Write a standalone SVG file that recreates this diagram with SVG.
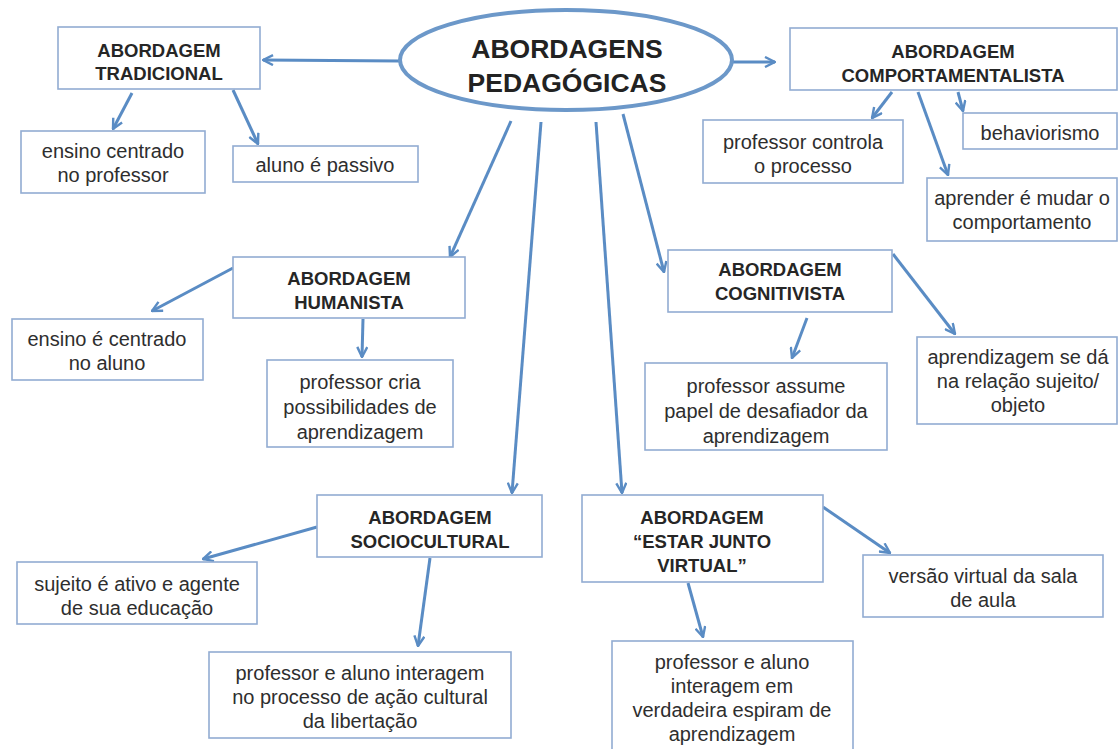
<svg xmlns="http://www.w3.org/2000/svg" width="1120" height="749" viewBox="0 0 1120 749">
<defs>
<marker id="ah" viewBox="0 0 12 12" refX="11" refY="6" markerWidth="12" markerHeight="12" markerUnits="userSpaceOnUse" orient="auto">
<path d="M1,1 L11,6 L1,11" fill="none" stroke="#5a8cc4" stroke-width="2.4" stroke-linejoin="miter"/>
</marker>
<style>
.box{fill:#fff;stroke:#92acd2;stroke-width:1.6}
.t{font-family:"Liberation Sans",Arial,sans-serif;font-size:20px;fill:#2e2e2e;text-anchor:middle;dominant-baseline:central}
.h{font-family:"Liberation Sans",Arial,sans-serif;font-size:18.5px;font-weight:bold;fill:#262626;text-anchor:middle;dominant-baseline:central}
.title{font-family:"Liberation Sans",Arial,sans-serif;font-size:26.5px;font-weight:bold;fill:#222;text-anchor:middle;dominant-baseline:central}
.c line{stroke:#5a8cc4;stroke-width:3;marker-end:url(#ah)}
</style>
</defs>
<rect width="1120" height="749" fill="#fff"/>

<g class="c" id="connectors">
<line x1="400" y1="61" x2="263" y2="60"/>
<line x1="733" y1="62" x2="775" y2="62"/>
<line x1="132" y1="93" x2="113" y2="129"/>
<line x1="233" y1="90" x2="258" y2="144"/>
<line x1="892" y1="92" x2="872" y2="118"/>
<line x1="918" y1="92" x2="948" y2="175"/>
<line x1="958" y1="92" x2="963" y2="111"/>
<line x1="511" y1="121" x2="450" y2="257"/>
<line x1="541" y1="122" x2="512" y2="493"/>
<line x1="596" y1="122" x2="622" y2="493"/>
<line x1="623" y1="114" x2="664" y2="272"/>
<line x1="233" y1="268" x2="152" y2="311"/>
<line x1="363" y1="319" x2="362" y2="357"/>
<line x1="807" y1="318" x2="792" y2="358"/>
<line x1="893" y1="254" x2="955" y2="334"/>
<line x1="317" y1="527" x2="203" y2="559"/>
<line x1="430" y1="558" x2="418" y2="646"/>
<line x1="688" y1="583" x2="703" y2="637"/>
<line x1="823" y1="507" x2="890" y2="553"/>
</g>

<g id="center">
<ellipse cx="566" cy="60" rx="166" ry="50" fill="#fff" stroke="#6c98c9" stroke-width="4"/>
<text class="title" x="567" y="49">ABORDAGENS</text>
<text class="title" x="567" y="83">PEDAGÓGICAS</text>
</g>

<g id="tradicional">
<rect class="box" x="58" y="27" width="202" height="62"/>
<text class="h" x="159" y="50">ABORDAGEM</text>
<text class="h" x="159" y="73">TRADICIONAL</text>
</g>
<g id="ensino-professor">
<rect class="box" x="21" y="131" width="184" height="62"/>
<text class="t" x="113" y="151">ensino centrado</text>
<text class="t" x="113" y="175">no professor</text>
</g>
<g id="aluno-passivo">
<rect class="box" x="233" y="146" width="185" height="36"/>
<text class="t" x="325" y="165">aluno é passivo</text>
</g>

<g id="comportamentalista">
<rect class="box" x="790" y="28" width="327" height="62"/>
<text class="h" x="953" y="51">ABORDAGEM</text>
<text class="h" x="953" y="75">COMPORTAMENTALISTA</text>
</g>
<g id="professor-controla">
<rect class="box" x="703" y="120" width="200" height="63"/>
<text class="t" x="803" y="142">professor controla</text>
<text class="t" x="803" y="166">o processo</text>
</g>
<g id="behaviorismo">
<rect class="box" x="963" y="113" width="154" height="36"/>
<text class="t" x="1040" y="133">behaviorismo</text>
</g>
<g id="aprender-mudar">
<rect class="box" x="927" y="178" width="190" height="63"/>
<text class="t" x="1022" y="198">aprender é mudar o</text>
<text class="t" x="1022" y="222">comportamento</text>
</g>

<g id="humanista">
<rect class="box" x="233" y="257" width="232" height="61"/>
<text class="h" x="349" y="278">ABORDAGEM</text>
<text class="h" x="349" y="302">HUMANISTA</text>
</g>
<g id="ensino-aluno">
<rect class="box" x="12" y="319" width="191" height="61"/>
<text class="t" x="107" y="339">ensino é centrado</text>
<text class="t" x="107" y="363">no aluno</text>
</g>
<g id="professor-cria">
<rect class="box" x="267" y="360" width="186" height="87"/>
<text class="t" x="360" y="382">professor cria</text>
<text class="t" x="360" y="407">possibilidades de</text>
<text class="t" x="360" y="432">aprendizagem</text>
</g>

<g id="cognitivista">
<rect class="box" x="668" y="250" width="224" height="62"/>
<text class="h" x="780" y="269">ABORDAGEM</text>
<text class="h" x="780" y="293">COGNITIVISTA</text>
</g>
<g id="professor-assume">
<rect class="box" x="645" y="363" width="242" height="87"/>
<text class="t" x="766" y="386">professor assume</text>
<text class="t" x="766" y="411">papel de desafiador da</text>
<text class="t" x="766" y="436">aprendizagem</text>
</g>
<g id="aprendizagem-relacao">
<rect class="box" x="917" y="337" width="200" height="87"/>
<text class="t" x="1018" y="357">aprendizagem se dá</text>
<text class="t" x="1018" y="381">na relação sujeito/</text>
<text class="t" x="1018" y="405">objeto</text>
</g>

<g id="sociocultural">
<rect class="box" x="317" y="495" width="225" height="62"/>
<text class="h" x="430" y="517">ABORDAGEM</text>
<text class="h" x="430" y="541">SOCIOCULTURAL</text>
</g>
<g id="sujeito-ativo">
<rect class="box" x="17" y="562" width="240" height="62"/>
<text class="t" x="137" y="584">sujeito é ativo e agente</text>
<text class="t" x="137" y="608">de sua educação</text>
</g>
<g id="professor-aluno-cultural">
<rect class="box" x="209" y="652" width="302" height="86"/>
<text class="t" x="360" y="673">professor e aluno interagem</text>
<text class="t" x="360" y="697">no processo de ação cultural</text>
<text class="t" x="360" y="721">da libertação</text>
</g>

<g id="estar-junto">
<rect class="box" x="582" y="495" width="241" height="87"/>
<text class="h" x="702" y="517">ABORDAGEM</text>
<text class="h" x="702" y="541">“ESTAR JUNTO</text>
<text class="h" x="702" y="565">VIRTUAL”</text>
</g>
<g id="versao-virtual">
<rect class="box" x="863" y="555" width="240" height="62"/>
<text class="t" x="983" y="576">versão virtual da sala</text>
<text class="t" x="983" y="600">de aula</text>
</g>
<g id="professor-aluno-espiral">
<rect class="box" x="612" y="641" width="241" height="120"/>
<text class="t" x="732" y="662">professor e aluno</text>
<text class="t" x="732" y="686">interagem em</text>
<text class="t" x="732" y="710">verdadeira espiram de</text>
<text class="t" x="732" y="734">aprendizagem</text>
</g>
</svg>
